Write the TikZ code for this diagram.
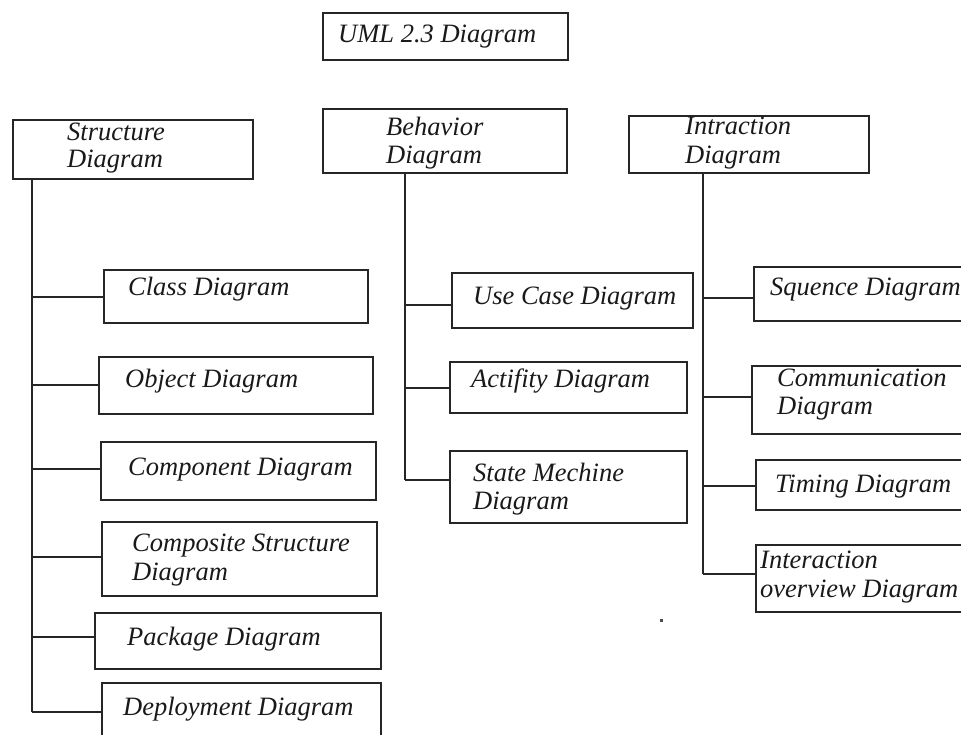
\documentclass[tikz,border=0pt]{standalone}
\usepackage{fontspec}
\setmainfont{Liberation Serif}
\tikzset{
  box/.style={draw=black!85, line width=1.8pt, fill=none, inner sep=0pt, anchor=north west},
  lbl/.style={inner sep=0pt, anchor=base west, text=black!90,
              font=\itshape\fontsize{26.5}{28}\selectfont},
  link/.style={draw=black!85, line width=1.8pt}
}
% box: name, left, top, right, bottom (pixel units, y grows downwards)
\newcommand{\umlbox}[5]{%
  \pgfmathsetmacro{\bw}{#4-#2}\pgfmathsetmacro{\bh}{#5-#3}%
  \node[box, minimum width=\bw pt, minimum height=\bh pt] (#1) at (#2,#3) {};}
\begin{document}
\begin{tikzpicture}[x=1pt, y=-1pt]
\useasboundingbox (0,0) rectangle (961,734);

% ---------- boxes ----------
\umlbox{uml}{322}{12}{567}{59}
\umlbox{struct}{12}{119}{252}{178}
\umlbox{behav}{322}{108}{566}{172}
\umlbox{intr}{628}{115}{868}{172}

\umlbox{class}{103}{269}{367}{322}
\umlbox{object}{98}{356}{372}{413}
\umlbox{component}{100}{441}{375}{499}
\umlbox{composite}{101}{521}{376}{595}
\umlbox{package}{94}{612}{380}{668}
\umlbox{deploy}{101}{682}{380}{750}

\umlbox{usecase}{451}{272}{692}{327}
\umlbox{activity}{449}{361}{686}{412}
\umlbox{state}{449}{450}{686}{522}

\umlbox{sequence}{753}{266}{975}{320}
\umlbox{comm}{751}{365}{975}{433}
\umlbox{timing}{755}{459}{975}{509}
\umlbox{interov}{755}{544}{975}{611}

% ---------- labels ----------
\node[lbl] (uml-t) at (338,42) {UML 2.3 Diagram};
\node[lbl] (struct-t1) at (67,140) {Structure};
\node[lbl] (struct-t2) at (67,167) {Diagram};
\node[lbl] (behav-t1) at (386,135) {Behavior};
\node[lbl] (behav-t2) at (386,163) {Diagram};
\node[lbl] (intr-t1) at (685,134) {Intraction};
\node[lbl] (intr-t2) at (685,163) {Diagram};

\node[lbl] (class-t) at (128,295) {Class Diagram};
\node[lbl] (object-t) at (125,387) {Object Diagram};
\node[lbl] (component-t) at (128,475) {Component Diagram};
\node[lbl] (composite-t1) at (132,551) {Composite Structure};
\node[lbl] (composite-t2) at (132,580) {Diagram};
\node[lbl] (package-t) at (127,645) {Package Diagram};
\node[lbl] (deploy-t) at (123,715) {Deployment Diagram};

\node[lbl] (usecase-t) at (473,304) {Use Case Diagram};
\node[lbl] (activity-t) at (471,387) {Actifity Diagram};
\node[lbl] (state-t1) at (473,481) {State Mechine};
\node[lbl] (state-t2) at (473,509) {Diagram};

\node[lbl] (sequence-t) at (770,295) {Squence Diagram};
\node[lbl] (comm-t1) at (777,386) {Communication};
\node[lbl] (comm-t2) at (777,414) {Diagram};
\node[lbl] (timing-t) at (775,492) {Timing Diagram};
\node[lbl] (interov-t1) at (760,568) {Interaction};
\node[lbl] (interov-t2) at (760,597) {overview Diagram};

% ---------- trunk points ----------
\coordinate (s1) at (32,297);
\coordinate (s2) at (32,385);
\coordinate (s3) at (32,469);
\coordinate (s4) at (32,557);
\coordinate (s5) at (32,637);
\coordinate (s6) at (32,712);

\coordinate (b1) at (405,305);
\coordinate (b2) at (405,388);
\coordinate (b3) at (405,480);

\coordinate (i1) at (703,298);
\coordinate (i2) at (703,397);
\coordinate (i3) at (703,486);
\coordinate (i4) at (703,574);

% ---------- connectors ----------
\draw[link] (struct.south -| s6) -- (s6);
\draw[link] (behav.south -| b3) -- (b3);
\draw[link] (intr.south -| i4) -- (i4);

\draw[link] (s1) -- (s1 -| class.west);
\draw[link] (s2) -- (s2 -| object.west);
\draw[link] (s3) -- (s3 -| component.west);
\draw[link] (s4) -- (s4 -| composite.west);
\draw[link] (s5) -- (s5 -| package.west);
\draw[link] (s6) -- (s6 -| deploy.west);

\draw[link] (b1) -- (b1 -| usecase.west);
\draw[link] (b2) -- (b2 -| activity.west);
\draw[link] (b3) -- (b3 -| state.west);

\draw[link] (i1) -- (i1 -| sequence.west);
\draw[link] (i2) -- (i2 -| comm.west);
\draw[link] (i3) -- (i3 -| timing.west);
\draw[link] (i4) -- (i4 -| interov.west);

% small stray mark below the boxes
\fill[black!70] (659.5,619) rectangle (662.5,621.5);
\end{tikzpicture}
\end{document}
